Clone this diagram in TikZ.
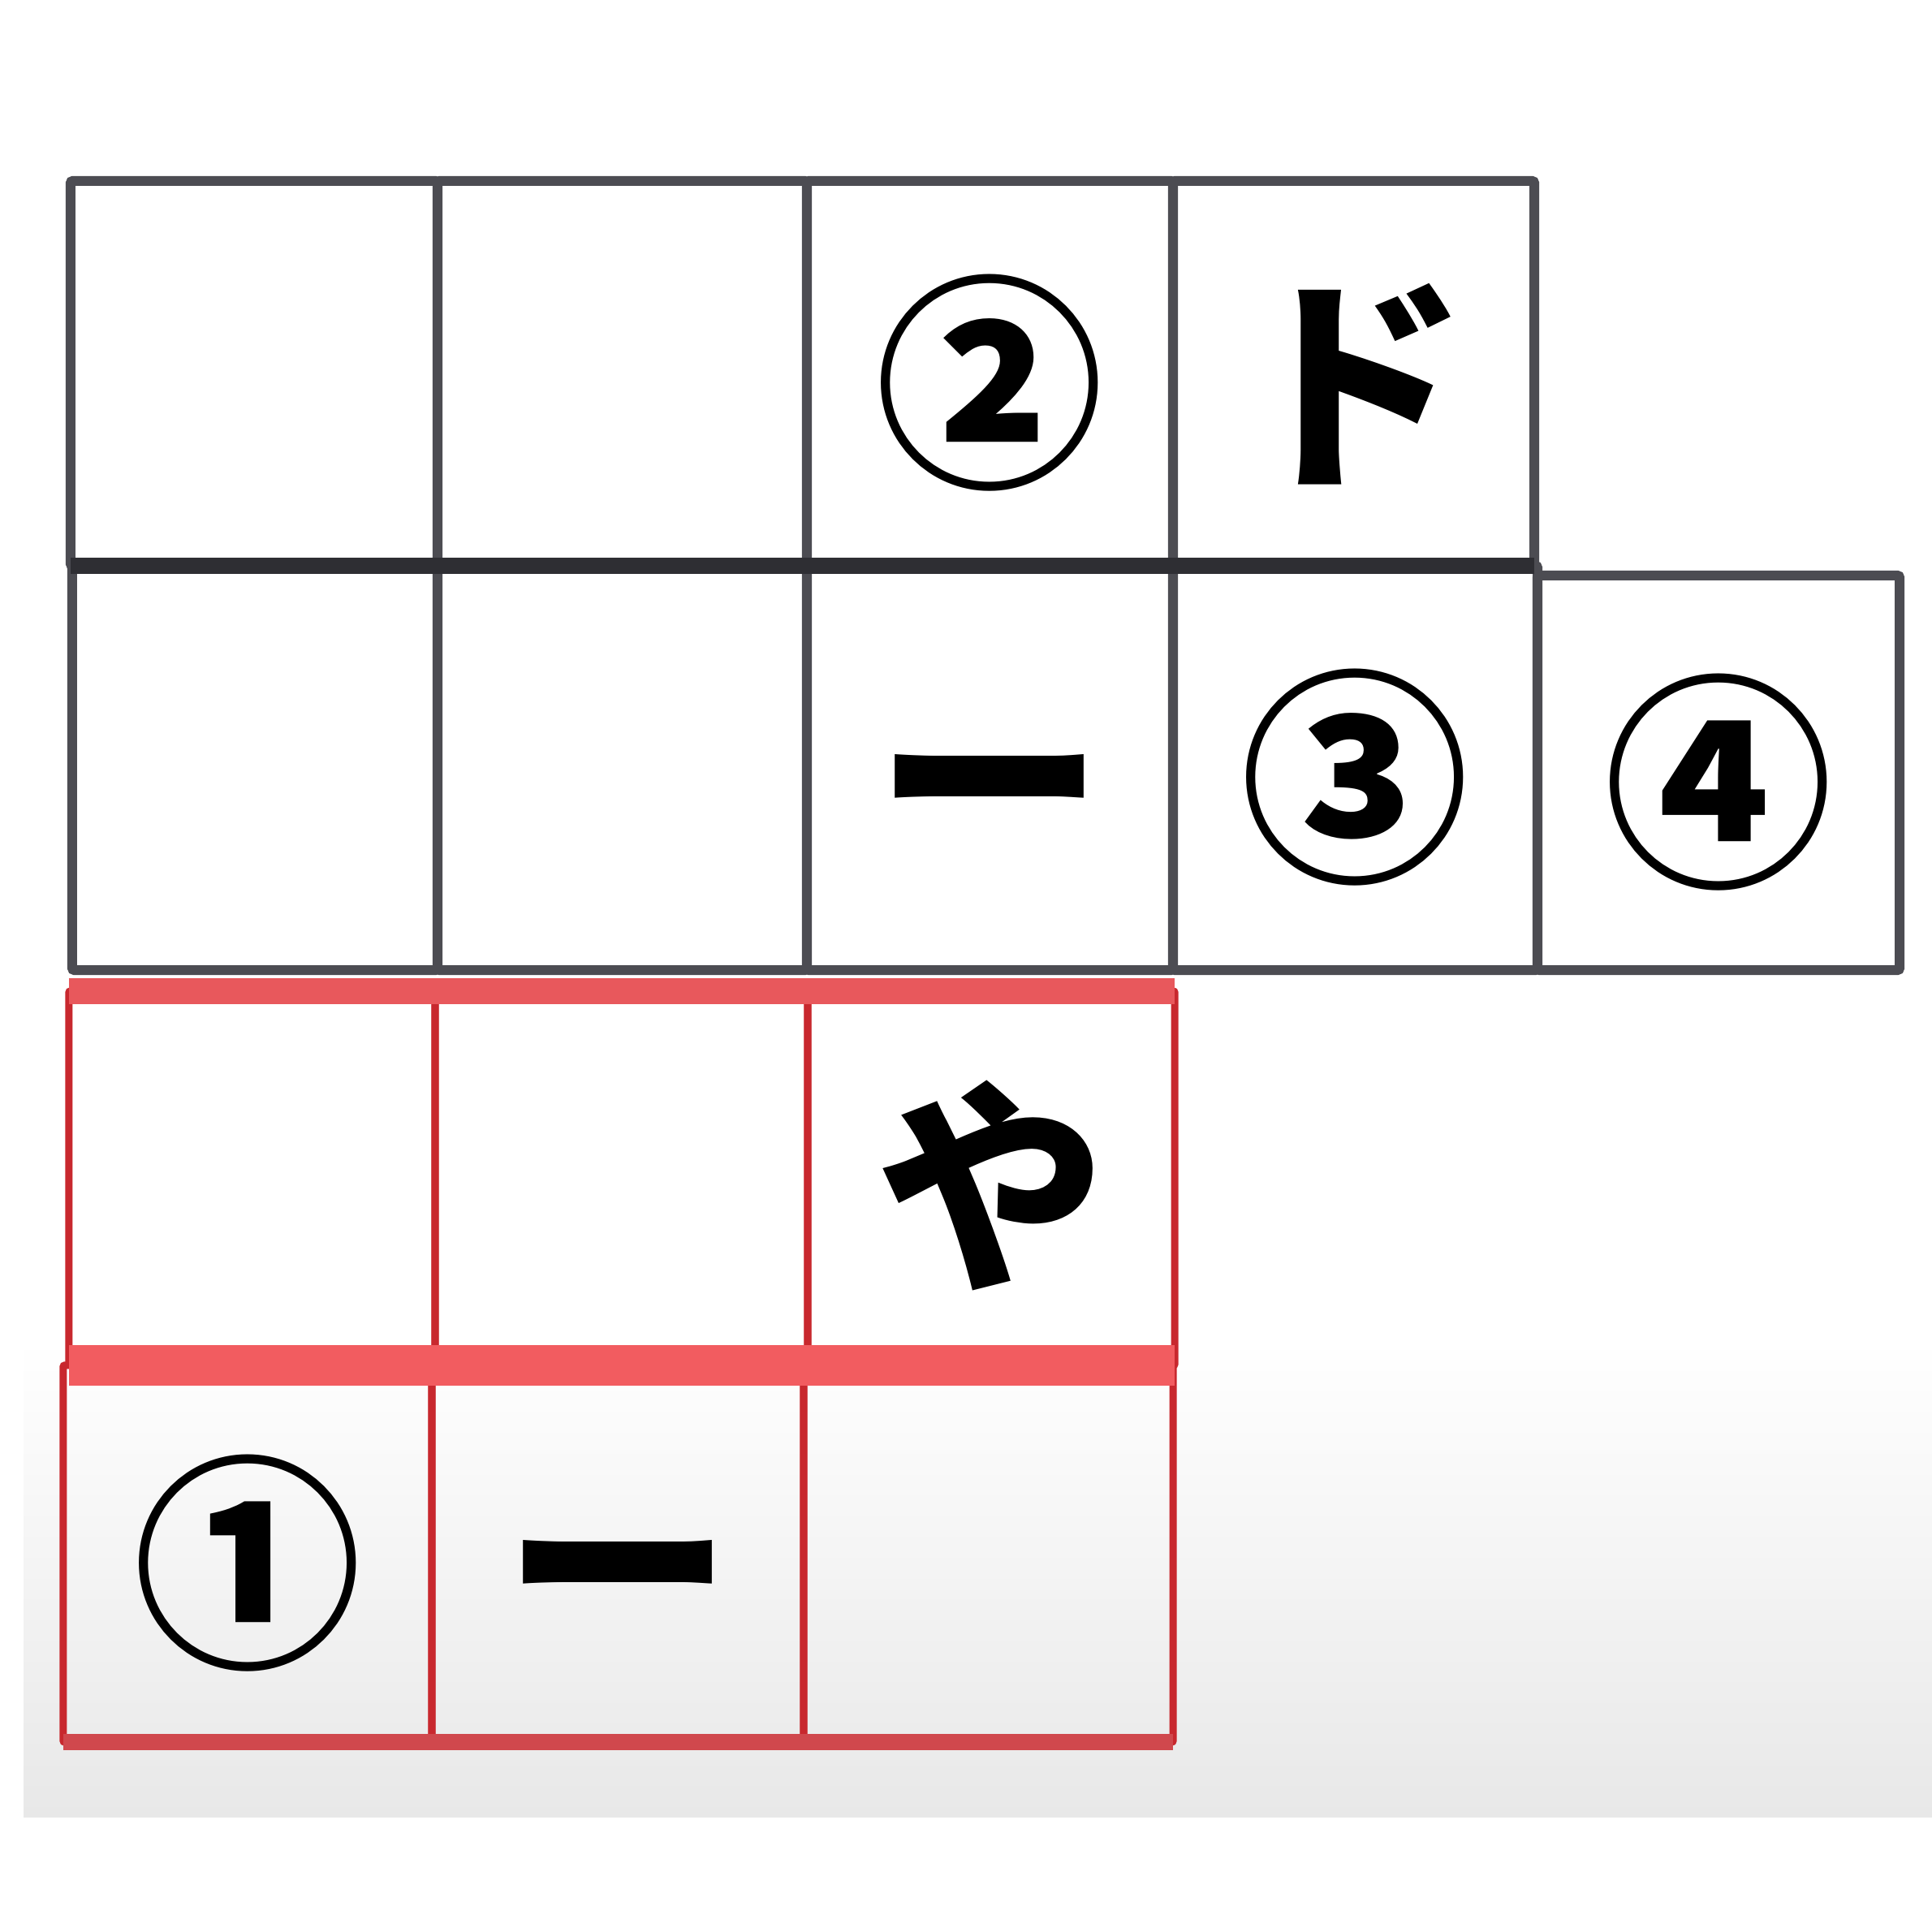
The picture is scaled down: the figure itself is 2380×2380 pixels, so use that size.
\documentclass[tikz,border=0pt]{standalone}
\usepackage{fontspec}
\newfontfamily\jp{Noto Sans CJK JP}
\definecolor{gridk}{HTML}{4C4C52}
\definecolor{gridkk}{HTML}{2E2E33}
\definecolor{gridr}{HTML}{C8282E}
\definecolor{bandr}{HTML}{F25C60}
\definecolor{bandrt}{HTML}{E8585C}
\definecolor{bottomgray}{HTML}{E8E8E8}
\tikzset{
  glyph/.style={font=\jp\bfseries\fontsize{80pt}{80pt}\selectfont, text height=73.6pt, text depth=6.4pt},
  cellk/.style={glyph, draw=gridk, line width=0.12cm, rounded corners=0.03cm, inner sep=0pt, outer sep=0pt},
  cellr/.style={glyph, draw=gridr, line width=0.09cm, rounded corners=0.02cm, inner sep=0pt, outer sep=0pt},
  bandk/.style={draw=gridkk, line width=0.2cm},
  bandmid/.style={draw=bandr, line width=0.5cm},
  bandtop/.style={draw=bandrt, line width=0.32cm},
  bandbot/.style={draw=gridr!85!white, line width=0.2cm},
}
\begin{document}
\begin{tikzpicture}[x=0.01cm, y=-0.01cm]
\useasboundingbox (0,0) rectangle (2380,2380);
\fill[white] (0,0) rectangle (2380,2380);
\shade[top color=white, bottom color=bottomgray] (29,1650) rectangle (2380,2238);
% row 1
\node[cellk, minimum width=4.52cm, minimum height=4.74cm] (a1) at (313,460) {};
\node[cellk, minimum width=4.55cm, minimum height=4.74cm] (a2) at (766.5,460) {};
\node[cellk, minimum width=4.51cm, minimum height=4.74cm] (a3) at (1219.5,460) {②};
\node[cellk, minimum width=4.45cm, minimum height=4.74cm] (a4) at (1667.5,460) {ド};
% row 2
\node[cellk, minimum width=4.50cm, minimum height=4.98cm] (b1) at (314,946) {};
\node[cellk, minimum width=4.55cm, minimum height=4.98cm] (b2) at (766.5,946) {};
\node[cellk, minimum width=4.51cm, minimum height=4.98cm] (b3) at (1219.5,946) {ー};
\node[cellk, minimum width=4.49cm, minimum height=4.98cm] (b4) at (1669.5,946) {③};
\node[cellk, minimum width=4.46cm, minimum height=4.86cm] (b5) at (2117,952) {④};
\draw[bandk] (a1.south west) -- (a4.south east);
% row 3
\node[cellr, minimum width=4.51cm, minimum height=4.61cm] (c1) at (310.5,1451.5) {};
\node[cellr, minimum width=4.59cm, minimum height=4.61cm] (c2) at (765.5,1451.5) {};
\node[cellr, minimum width=4.52cm, minimum height=4.61cm] (c3) at (1221,1451.5) {や};
% row 4
\node[cellr, minimum width=4.54cm, minimum height=4.64cm] (d1) at (305,1914) {①};
\node[cellr, minimum width=4.58cm, minimum height=4.64cm] (d2) at (761,1914) {ー};
\node[cellr, minimum width=4.55cm, minimum height=4.64cm] (d3) at (1217.5,1914) {};
\draw[bandtop] (c1.north west) -- (c3.north east);
\draw[bandmid] (c1.south west) -- (c3.south east);
\draw[bandbot] (d1.south west) -- (d3.south east);
\end{tikzpicture}
\end{document}
